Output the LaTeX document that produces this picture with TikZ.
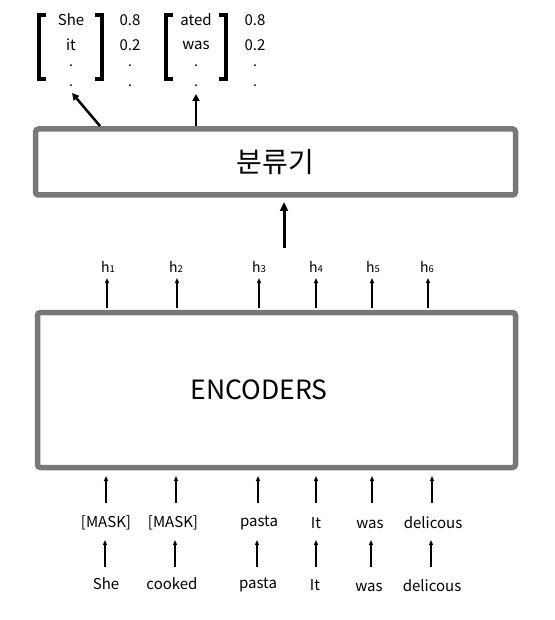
\documentclass[tikz,border=0pt]{standalone}
\usepackage{fontspec}
\setmainfont{Noto Sans CJK KR}
\usetikzlibrary{arrows.meta}
\tikzset{
  box/.style={draw=black!53, line width=5.5pt, rounded corners=3pt, fill=white},
  lbl/.style={inner sep=1pt, font=\fontsize{15}{17}\selectfont},
  thin/.style={line width=1.2pt, -{Triangle[length=5pt,width=4pt]}},
  thick/.style={line width=3pt, -{Triangle[length=9pt,width=8pt]}},
  brk/.style={line width=4pt},
  dotn/.style={inner sep=0pt, font=\fontsize{14}{16}\selectfont}
}
\begin{document}
\begin{tikzpicture}[x=1pt,y=-1pt]
\useasboundingbox (0,0) rectangle (554,620);
% boxes
\node[box, minimum width=480pt, minimum height=66pt] (cls) at (275.5,162) {\fontsize{28}{32}\selectfont 분류기};
\node[box, minimum width=478pt, minimum height=155pt] (enc) at (276.5,390) {};
\node[font=\fontsize{26.5}{30}\selectfont] (enclbl) at (259,390) {ENCODERS};
% top left bracket group
\draw[brk] (46,15) -- (39,15) -- (39,79) -- (46,79);
\draw[brk] (95,15) -- (102,15) -- (102,79) -- (95,79);
\node[lbl] (w1) at (71,20) {She};
\node[lbl] (w2) at (71,45) {it};
\node[dotn] (w3) at (71,66) {.};
\node[dotn] (w4) at (71,86) {.};
\node[lbl] (p1) at (130,20) {0.8};
\node[lbl] (p2) at (130,45) {0.2};
\node[dotn] (p3) at (130,66) {.};
\node[dotn] (p4) at (130,86) {.};
% top right bracket group
\draw[brk] (173,15) -- (166,15) -- (166,79) -- (173,79);
\draw[brk] (219,15) -- (226,15) -- (226,79) -- (219,79);
\node[lbl] (v1) at (196,20) {ated};
\node[lbl] (v2) at (196,45) {was};
\node[dotn] (v3) at (196,66) {.};
\node[dotn] (v4) at (196,86) {.};
\node[lbl] (q1) at (255,20) {0.8};
\node[lbl] (q2) at (255,45) {0.2};
\node[dotn] (q3) at (255,66) {.};
\node[dotn] (q4) at (255,86) {.};
% arrows from classifier
\coordinate (c1) at (100,126);
\coordinate (c2) at (196,126);
\draw[line width=2.5pt, -{Triangle[length=7pt,width=7pt]}] (c1) -- (72,93);
\draw[line width=2.5pt, -{Triangle[length=7pt,width=7pt]}] (c2) -- (196,94);
% thick arrow into classifier
\coordinate (t0) at (284,248);
\draw[thick] (t0) -- (284,202);
% h labels
\foreach \i/\x in {1/108,2/176,3/259,4/316,5/373,6/427} {
  \node[lbl, font=\fontsize{14}{16}\selectfont] (h\i) at (\x,267) {h\raisebox{-0.5pt}{\fontsize{9.5}{10}\selectfont\i}};
}
\foreach \i/\x in {1/107,2/177,3/259,4/316,5/372,6/428} {
  \draw[thin] (\x,308) -- (\x,278);
}
% row 1 (masked inputs)
\node[lbl] (a1) at (106,523) {[MASK]};
\node[lbl] (a2) at (173,523) {[MASK]};
\node[lbl] (a3) at (259,523) {pasta};
\node[lbl] (a4) at (316,523) {It};
\node[lbl] (a5) at (370,524) {was};
\node[lbl] (a6) at (433,523) {delicous};
% row 2 (original)
\node[lbl] (b1) at (106,584) {She};
\node[lbl] (b2) at (172,584) {cooked};
\node[lbl] (b3) at (258,585) {pasta};
\node[lbl] (b4) at (315,585) {It};
\node[lbl] (b5) at (369,587) {was};
\node[lbl] (b6) at (432,586) {delicous};
% arrows row1 -> encoder
\foreach \i/\x in {1/106,2/176,3/258,4/316,5/372,6/432} {
  \draw[thin] (\x,503) -- (\x,476);
}
% arrows row2 -> row1
\foreach \i/\x in {1/105,2/175,3/257,4/316,5/371,6/431} {
  \draw[thin] (\x,567) -- (\x,540);
}
\end{tikzpicture}
\end{document}
